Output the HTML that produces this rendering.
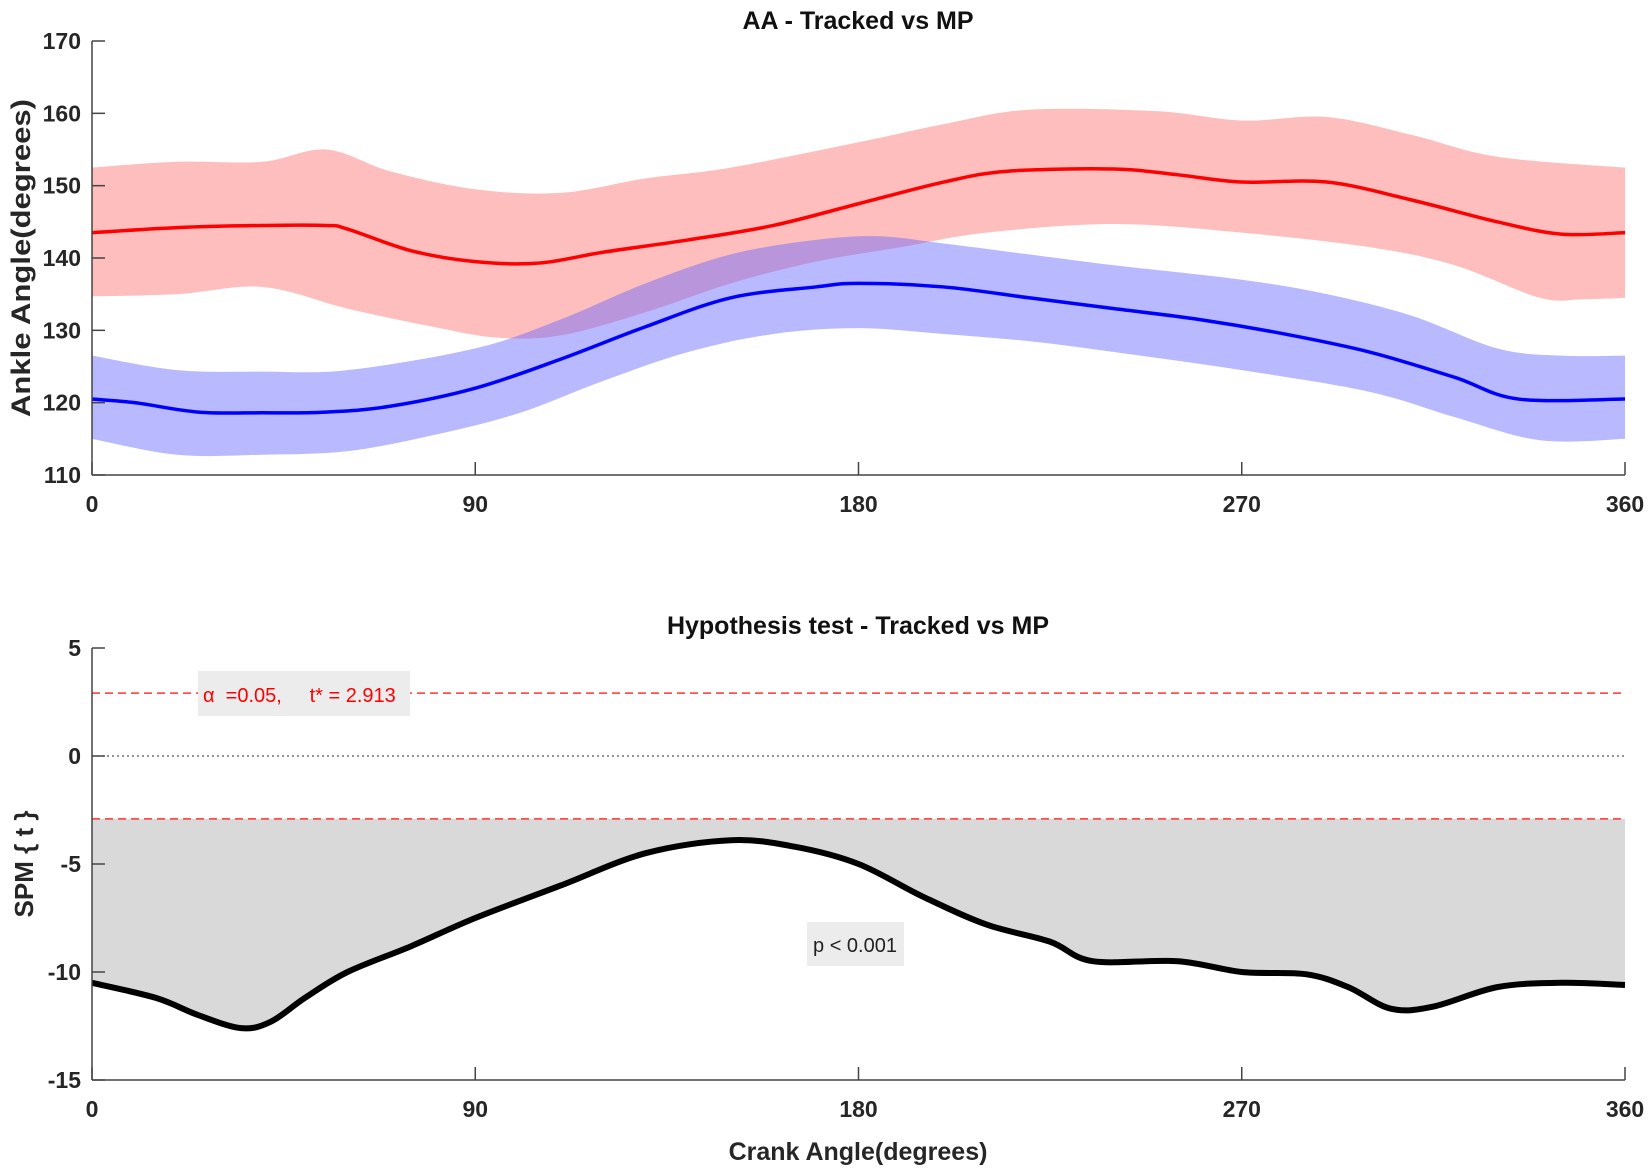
<!DOCTYPE html>
<html><head><meta charset="utf-8"><style>
html,body{margin:0;padding:0;background:#fff}
svg{display:block;font-family:"Liberation Sans",Arial,sans-serif}
</style></head><body>
<svg id="chart" width="1652" height="1174" viewBox="0 0 1652 1174">
<g id="topg"></g>
<g id="botg"></g>
</svg>
<script>
// Top chart data
const redX=[0,20,40,55,60,75,90,105,120,140,160,180,200,215,240,255,270,290,310,330,345,360];
const redMean=[143.5,144.2,144.5,144.5,144,141,139.5,139.3,140.8,142.5,144.5,147.5,150.5,152,152.3,151.5,150.5,150.5,148,145,143.3,143.5];
const redUpX=[0,20,40,55,70,90,110,130,150,180,200,220,250,270,290,310,330,360];
const redUp=[152.5,153.3,153.3,155,152,149.5,149,151,152.5,156,158.5,160.5,160.3,159,159.5,157,154,152.5];
const redLoX=[0,20,40,60,80,95,110,130,150,170,190,210,240,270,300,320,340,350,360];
const redLo=[134.7,135,136,133,130.5,129,129.3,132.5,136.5,139.5,141.5,143.5,144.7,143.5,141.5,139,134.5,134.3,134.5];
const blueX=[0,10,25,40,55,70,90,110,130,150,170,180,200,220,240,260,280,300,320,335,360];
const blueMean=[120.5,120,118.7,118.6,118.7,119.5,122,126,130.5,134.5,136,136.5,136,134.5,133,131.5,129.5,127,123.5,120.5,120.5];
const blueUpX=[0,20,40,60,90,110,130,150,170,185,200,220,240,270,290,310,330,345,360];
const blueUp=[126.5,124.5,124.3,124.5,127.5,131.5,136.5,140.5,142.5,143,142,140.5,139,137,135,132,127.5,126.5,126.5];
const blueLoX=[0,20,40,60,80,100,120,140,160,180,200,220,240,270,300,320,340,360];
const blueLo=[115,112.8,112.8,113.3,115.5,118.5,123,127,129.5,130.3,129.5,128.5,127,124.5,121.5,118,114.8,115];
const topYTicks=[110,120,130,140,150,160,170];
const xTicks=[0,90,180,270,360];
// Bottom chart data
const spmX=[0,15,25,35,42,50,60,75,90,110,130,150,165,180,195,210,225,235,255,270,285,295,305,315,330,345,360];
const spmT=[-10.5,-11.2,-12,-12.6,-12.3,-11.2,-10,-8.8,-7.5,-6,-4.5,-3.9,-4.2,-5,-6.5,-7.8,-8.6,-9.5,-9.5,-10,-10.1,-10.7,-11.7,-11.6,-10.7,-10.5,-10.6];
const botYTicks=[-15,-10,-5,0,5];
const tCrit=[2.913];

const NS='http://www.w3.org/2000/svg';
const L=92,R=1625;
const xs=v=>L+(R-L)*v/360;
const ysTop=v=>475-(v-110)/60*(475-41);
const ysBot=v=>1080-(v+15)/20*(1080-648);
function el(tag,attrs,parent,txt){const e=document.createElementNS(NS,tag);for(const k in attrs)e.setAttribute(k,attrs[k]);if(txt!=null)e.textContent=txt;parent.appendChild(e);return e;}
function pts(X,Y,ys){return X.map((x,i)=>[xs(x),ys(Y[i])]);}
function smooth(p,move=true){let d=move?`M${p[0][0]},${p[0][1]}`:`L${p[0][0]},${p[0][1]}`;for(let i=0;i<p.length-1;i++){const p0=p[i-1]||p[i],p1=p[i],p2=p[i+1],p3=p[i+2]||p2;const c1=[p1[0]+(p2[0]-p0[0])/6,p1[1]+(p2[1]-p0[1])/6],c2=[p2[0]-(p3[0]-p1[0])/6,p2[1]-(p3[1]-p1[1])/6];d+=` C${c1[0]},${c1[1]} ${c2[0]},${c2[1]} ${p2[0]},${p2[1]}`;}return d;}
function band(ux,u,lx,l,ys){const up=pts(ux,u,ys),lo=pts(lx,l,ys).reverse();return smooth(up)+' '+smooth(lo,false)+' Z';}

const gTop=document.getElementById('topg'),gBot=document.getElementById('botg');
let e;
e=el('path',{d:band(redUpX,redUp,redLoX,redLo,ysTop),fill:'rgb(255,110,110)','fill-opacity':0.45},gTop);


e=el('path',{d:band(blueUpX,blueUp,blueLoX,blueLo,ysTop),fill:'rgb(100,100,255)','fill-opacity':0.45},gTop);


e=el('path',{d:smooth(pts(redX,redMean,ysTop)),fill:'none',stroke:'#f00','stroke-width':3.5},gTop);


e=el('path',{d:smooth(pts(blueX,blueMean,ysTop)),fill:'none',stroke:'#00f','stroke-width':3.5},gTop);



function axes(g,yTicks,ys,yb,ytop,name){
  el('line',{x1:L,y1:yb,x2:R,y2:yb,stroke:'#444','stroke-width':1.5},g);
  el('line',{x1:L,y1:ytop,x2:L,y2:yb,stroke:'#444','stroke-width':1.5},g);
  yTicks.forEach(v=>{const y=ys(v);el('line',{x1:L,y1:y,x2:L+13,y2:y,stroke:'#444','stroke-width':1.5},g);
    const t=el('text',{x:L-11,y:y+8,'text-anchor':'end','font-size':23,'font-weight':'bold',fill:'#262626'},g,String(v));
    
    });
  xTicks.forEach(v=>{const x=xs(v);el('line',{x1:x,y1:yb,x2:x,y2:yb-13,stroke:'#444','stroke-width':1.5},g);
    const t=el('text',{x:x,y:yb+37,'text-anchor':'middle','font-size':23,'font-weight':'bold',fill:'#262626'},g,String(v));
    
    });
}
axes(gTop,topYTicks,ysTop,475,41,'top');
e=el('text',{x:858,y:29,'text-anchor':'middle','font-size':25,'font-weight':'bold',fill:'#111'},gTop,'AA - Tracked vs MP');


e=el('text',{x:0,y:0,transform:'translate(30,258) rotate(-90)','text-anchor':'middle','font-size':27,'font-weight':'bold',fill:'#262626',textLength:318,lengthAdjust:'spacingAndGlyphs'},gTop,'Ankle Angle(degrees)');



const tc=tCrit[0];
const sp=pts(spmX,spmT,ysBot);
e=el('path',{d:`M${xs(0)},${ysBot(-tc)} `+smooth(sp,false)+` L${xs(360)},${ysBot(-tc)} Z`,fill:'#d9d9d9'},gBot);


[tc,-tc].forEach(v=>{const l=el('line',{x1:L,x2:R,y1:ysBot(v),y2:ysBot(v),stroke:'#f33','stroke-width':1.5,'stroke-dasharray':'8,5'},gBot);
  
  });
e=el('line',{x1:L,x2:R,y1:ysBot(0),y2:ysBot(0),stroke:'#555','stroke-width':1.2,'stroke-dasharray':'2,3'},gBot);


e=el('path',{d:smooth(sp),fill:'none',stroke:'#000','stroke-width':6},gBot);


axes(gBot,botYTicks,ysBot,1080,648,'bottom');
e=el('rect',{x:198,y:671,width:212,height:45,fill:'#ececec'},gBot);


e=el('text',{x:203,y:702,'font-size':20,fill:'#f00',style:'white-space:pre'},gBot,'α  =0.05,     t* = 2.913');


e=el('rect',{x:807,y:922,width:97,height:44,fill:'#ececec'},gBot);


e=el('text',{x:855,y:952,'text-anchor':'middle','font-size':20,fill:'#222'},gBot,'p < 0.001');


e=el('text',{x:858,y:634,'text-anchor':'middle','font-size':25,'font-weight':'bold',fill:'#111'},gBot,'Hypothesis test - Tracked vs MP');


e=el('text',{x:858,y:1160,'text-anchor':'middle','font-size':25,'font-weight':'bold',fill:'#262626'},gBot,'Crank Angle(degrees)');


e=el('text',{x:0,y:0,transform:'translate(33,864) rotate(-90)','text-anchor':'middle','font-size':26,'font-weight':'bold',fill:'#262626'},gBot,'SPM { t }');


</script>
</body></html>
